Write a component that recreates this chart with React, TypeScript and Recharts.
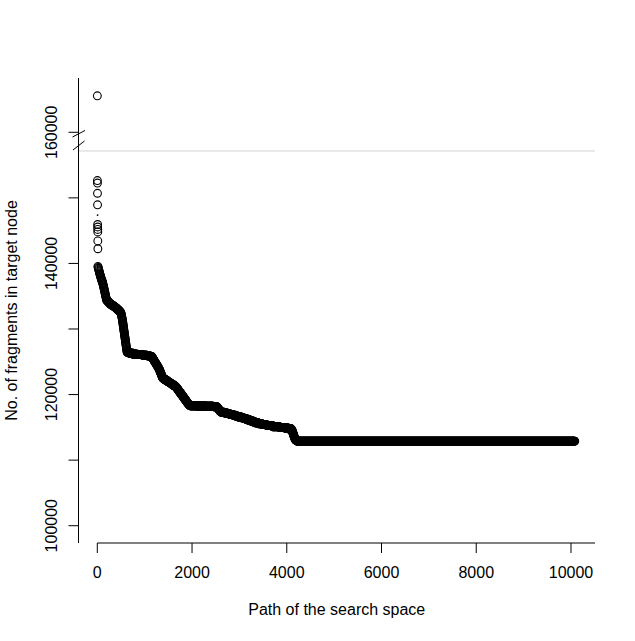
import React from "react";
import { ScatterChart, Scatter, XAxis, YAxis, ReferenceLine, ReferenceDot, Label } from "recharts";

// ---- data ----
const xDomain: [number, number] = [-397, 10507];
const yDomain: [number, number] = [97362, 168281];
const xTicks = [0, 2000, 4000, 6000, 8000, 10000];
const yTicks = [100000, 110000, 120000, 130000, 140000, 150000, 160000];
const yTickLabels = [100000, 120000, 140000, 160000];
const gapValue = 157148;
const breakValue = 158826;

// first, scattered evaluations near the start of the path
const earlyPath = [1, 2, 3, 4, 5, 7, 8, 9, 10, 11, 12];
const earlyFragments = [165570, 152640, 152260, 150700, 148940, 145940, 145560, 145180, 144800, 143430, 142240];
const dotPath = [6];
const dotFragments = [147380];

// best-so-far curve, run-length encoded: value holds from runStart until next runStart
const runStarts = [
  13, 18, 23, 28, 33, 38, 43, 48, 53, 58, 63, 68, 73, 78, 83, 88, 93, 98, 103, 108,
  113, 118, 123, 128, 133, 138, 143, 148, 153, 158, 163, 168, 173, 178, 183, 188, 193, 198,
  215, 230, 245, 260, 280, 300, 325, 350, 375, 395, 415, 435, 455, 475, 495,
  505, 510, 514, 518, 522, 526, 530, 533, 536, 539, 542, 545, 548, 551, 554, 557, 560, 563, 566, 569,
  572, 575, 578, 581, 584, 587, 590, 593, 596, 599, 602, 605, 608, 611, 614, 617, 620, 623, 626, 630,
  680, 760, 850, 950, 1050, 1120,
  1160, 1170, 1180, 1190, 1200, 1210, 1220, 1230, 1240, 1250, 1260, 1270, 1280, 1290, 1300, 1310, 1318, 1326, 1334, 1342,
  1350, 1358, 1366, 1374, 1385, 1400,
  1420, 1445, 1470, 1495, 1520, 1545, 1570, 1595, 1620, 1645, 1665, 1680,
  1695, 1710, 1725, 1740, 1755, 1770, 1785, 1800, 1815, 1830, 1845, 1860, 1875, 1890, 1905, 1920, 1940, 1960,
  2100, 2280, 2450, 2530, 2545, 2560, 2575, 2590, 2605, 2620,
  2680, 2740, 2800, 2860, 2920, 2980, 3040, 3100, 3160, 3220, 3280, 3330, 3400, 3480, 3580, 3700, 3850, 3960, 4030, 4100,
  4112, 4120, 4128, 4135, 4142, 4149, 4156, 4163, 4170, 4180, 4195, 4215,
];
const runValues = [
  139540, 139400, 139260, 139120, 138980, 138840, 138700, 138560, 138420, 138300, 138180, 138050, 137920, 137800, 137680, 137550, 137450, 137400, 137300, 137180,
  137050, 136900, 136750, 136600, 136450, 136300, 136150, 136000, 135830, 135660, 135500, 135330, 135160, 135000, 134830, 134660, 134500, 134370,
  134250, 134130, 134000, 133880, 133760, 133650, 133540, 133420, 133300, 133170, 133040, 132900, 132760, 132600, 132450,
  132300, 132150, 132000, 131850, 131700, 131550, 131400, 131250, 131100, 130950, 130800, 130650, 130500, 130350, 130200, 130050, 129900, 129750, 129600, 129450,
  129300, 129150, 129000, 128850, 128700, 128550, 128400, 128250, 128100, 127950, 127800, 127650, 127500, 127350, 127200, 127050, 126900, 126750, 126600, 126450,
  126300, 126150, 126100, 126000, 125900, 125800,
  125650, 125500, 125400, 125280, 125150, 125030, 124920, 124800, 124680, 124560, 124440, 124320, 124200, 124080, 123950, 123800, 123650, 123500, 123350, 123200,
  123050, 122900, 122750, 122600, 122480, 122400,
  122300, 122180, 122060, 121940, 121820, 121700, 121580, 121460, 121340, 121220, 121100, 120950,
  120800, 120650, 120500, 120350, 120200, 120050, 119900, 119750, 119600, 119450, 119300, 119150, 119000, 118850, 118700, 118550, 118400, 118280,
  118250, 118220, 118150, 118050, 117900, 117750, 117600, 117450, 117350, 117300,
  117200, 117100, 116950, 116850, 116700, 116580, 116450, 116320, 116150, 116000, 115850, 115700, 115560, 115420, 115280, 115100, 114980, 114900, 114780, 114620,
  114450, 114300, 114150, 114000, 113850, 113700, 113550, 113400, 113250, 113100, 113000, 112900,
];
const pathEnd = 10080;
const runStep = 5;

type Pt = { x: number; y: number };
const bandData: Pt[] = [];
runStarts.forEach((start, i) => {
  const stop = i + 1 < runStarts.length ? runStarts[i + 1] : pathEnd + 1;
  for (let x = start; x < stop; x += runStep) bandData.push({ x, y: runValues[i] });
});
const earlyData: Pt[] = earlyPath.map((x, i) => ({ x, y: earlyFragments[i] }));
const dotData: Pt[] = dotPath.map((x, i) => ({ x, y: dotFragments[i] }));

const FONT = "'Liberation Sans', Arial, Helvetica, sans-serif";

const OpenCircle = (p: any) => (
  <circle cx={p.cx} cy={p.cy} r={3.9} fill="none" stroke="#000" strokeWidth={1.1} />
);
const SmallDot = (p: any) => (
  <circle cx={p.cx} cy={p.cy} r={0.9} fill="#000" stroke="none" />
);

const XTick = (p: any) => (
  <text x={p.x} y={p.y + 25} textAnchor="middle" fontSize={16} fontFamily={FONT} fill="#000">
    {p.payload.value}
  </text>
);

const YTick = (p: any) => {
  if (!yTickLabels.includes(p.payload.value)) return <g />;
  return (
    <text
      transform={`translate(${p.x - 12},${p.y}) rotate(-90)`}
      textAnchor="middle"
      fontSize={16}
      fontFamily={FONT}
      fill="#000"
    >
      {p.payload.value}
    </text>
  );
};

const BreakMarks = (p: any) => {
  const cx = p.cx;
  const cy = p.cy;
  return (
    <g stroke="#000" strokeWidth={1}>
      <line x1={cx - 6} y1={cy - 3} x2={cx + 6.5} y2={cy - 9.5} />
      <line x1={cx - 5.5} y1={cy + 10} x2={cx + 6} y2={cy + 1} />
    </g>
  );
};

export default function App() {
  return (
    <div style={{ position: "absolute", left: 0, top: 0, background: "#fff" }}>
      <ScatterChart width={635} height={641} margin={{ top: 78, right: 40, bottom: 0, left: 0 }}>
        <XAxis
          type="number"
          dataKey="x"
          domain={xDomain}
          ticks={xTicks}
          interval={0}
          allowDataOverflow
          axisLine={false}
          tickLine={{ stroke: "#000", strokeWidth: 1 }}
          tickSize={10}
          tickMargin={0}
          tick={<XTick />}
          height={98}
        >
          <Label
            content={(props: any) => {
              const vb = props.viewBox;
              return (
                <text
                  x={vb.x + vb.width / 2}
                  y={vb.y + 72}
                  textAnchor="middle"
                  fontSize={16}
                  fontFamily={FONT}
                  fill="#000"
                >
                  Path of the search space
                </text>
              );
            }}
          />
        </XAxis>
        <YAxis
          type="number"
          dataKey="y"
          domain={yDomain}
          ticks={yTicks}
          interval={0}
          allowDataOverflow
          axisLine={{ stroke: "#000", strokeWidth: 1 }}
          tickLine={{ stroke: "#000", strokeWidth: 1 }}
          tickSize={10}
          tickMargin={0}
          tick={<YTick />}
          width={78.5}
        >
          <Label
            content={(props: any) => {
              const vb = props.viewBox;
              return (
                <text
                  transform={`translate(${vb.x + 16.5},${vb.y + vb.height / 2}) rotate(-90)`}
                  textAnchor="middle"
                  fontSize={16}
                  fontFamily={FONT}
                  fill="#000"
                >
                  No. of fragments in target node
                </text>
              );
            }}
          />
        </YAxis>
        <ReferenceLine y={gapValue} stroke="#d3d3d3" strokeWidth={1} ifOverflow="visible" />
        <ReferenceLine
          segment={[
            { x: xTicks[0], y: yDomain[0] },
            { x: xDomain[1], y: yDomain[0] },
          ]}
          stroke="#000"
          strokeWidth={1}
          ifOverflow="visible"
        />
        <ReferenceDot x={xDomain[0]} y={breakValue} r={0} ifOverflow="visible" shape={<BreakMarks />} />
        <Scatter data={bandData} shape={<OpenCircle />} isAnimationActive={false} />
        <Scatter data={earlyData} shape={<OpenCircle />} isAnimationActive={false} />
        <Scatter data={dotData} shape={<SmallDot />} isAnimationActive={false} />
      </ScatterChart>
    </div>
  );
}
